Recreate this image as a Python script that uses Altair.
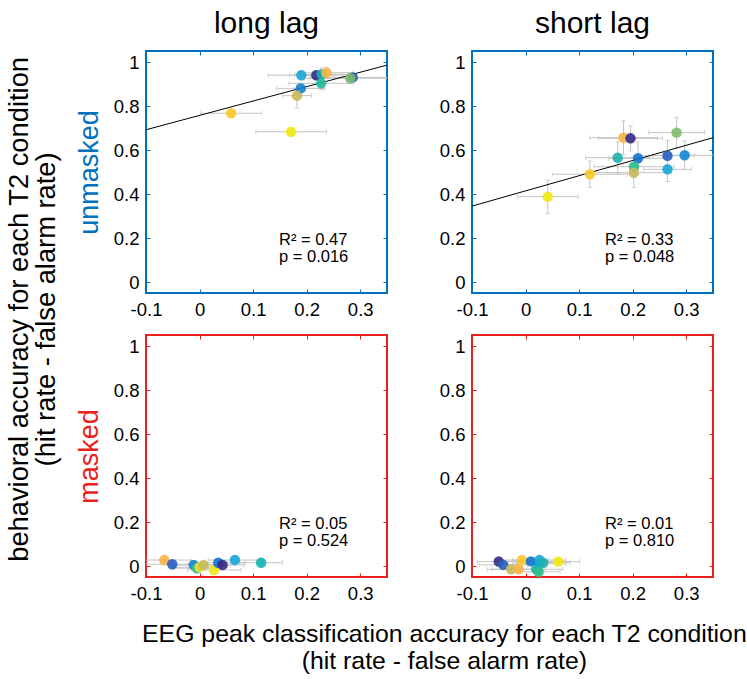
import altair as alt
import pandas as pd

FONT = "Liberation Sans"
BLUE = "#0072BD"
RED = "#E8231E"
GRAY = "#C4C4C4"

X_TICKS = [-0.1, 0, 0.1, 0.2, 0.3]
Y_TICKS = [0, 0.2, 0.4, 0.6, 0.8, 1]

# ---- long lag, unmasked ----
lu_x = [0.218, 0.286, 0.189, 0.190, 0.228, 0.227, 0.281, 0.182, 0.237, 0.059, 0.171]
lu_y = [0.940, 0.930, 0.880, 0.940, 0.944, 0.903, 0.926, 0.847, 0.951, 0.767, 0.683]
lu_xe = [0.050, 0.080, 0.045, 0.062, 0.050, 0.060, 0.085, 0.027, 0.050, 0.057, 0.066]
lu_ye = [0.020, 0.020, 0.020, 0.020, 0.030, 0.030, 0.020, 0.056, 0.025, 0.010, 0.012]
lu_c = ["#352A87", "#2A5EBF", "#1482D5", "#1BA6D9", "#14B1B4", "#25B89A",
        "#7BBE6E", "#C8B95A", "#F8B544", "#FBC92B", "#F2E813"]
lu_fit_x = [-0.1, 0.35]
lu_fit_y = [0.692, 0.986]
lu_stats = ["R² = 0.47", "p = 0.016"]

# ---- short lag, unmasked ----
su_x = [0.0415, 0.120, 0.183, 0.196, 0.172, 0.210, 0.2025, 0.202, 0.282, 0.265, 0.265, 0.297]
su_y = [0.388, 0.490, 0.656, 0.653, 0.565, 0.562, 0.524, 0.497, 0.679, 0.574, 0.512, 0.576]
su_xe = [0.057, 0.070, 0.063, 0.060, 0.060, 0.055, 0.075, 0.070, 0.052, 0.050, 0.045, 0.060]
su_ye = [0.076, 0.060, 0.077, 0.057, 0.072, 0.075, 0.050, 0.068, 0.069, 0.070, 0.055, 0.065]
su_c = ["#F2E813", "#FBCB2B", "#F8B544", "#352A87", "#1FB0B0", "#1272D3",
        "#2DBF8A", "#C8B95A", "#7DBE6C", "#2A5EBF", "#16A8D6", "#1287D5"]
su_fit_x = [-0.1, 0.35]
su_fit_y = [0.345, 0.656]
su_stats = ["R² = 0.33", "p = 0.048"]

# ---- long lag, masked ----
lm_x = [-0.066, -0.051, -0.011, -0.005, 0.000, 0.0075, 0.027, 0.035, 0.043, 0.066, 0.115]
lm_y = [0.027, 0.008, 0.005, -0.010, -0.006, 0.005, -0.018, 0.015, 0.005, 0.027, 0.015]
lm_xe = [0.050, 0.050, 0.040, 0.045, 0.050, 0.050, 0.050, 0.050, 0.040, 0.050, 0.040]
lm_ye = [0.006, 0.006, 0.006, 0.006, 0.006, 0.006, 0.006, 0.006, 0.006, 0.006, 0.006]
lm_c = ["#F8B544", "#2A5EBF", "#1482D5", "#2DBF8A", "#E8E030", "#C8B95A",
        "#F2E813", "#1474D0", "#352A87", "#1BA6D9", "#14B1B4"]
lm_stats = ["R² = 0.05", "p = 0.524"]

# ---- short lag, masked ----
sm_x = [-0.050, -0.0415, -0.027, -0.013, -0.007, 0.010, 0.026, 0.026, 0.033, 0.020, 0.0245, 0.061]
sm_y = [0.020, 0.005, -0.015, -0.015, 0.027, 0.021, 0.010, 0.027, 0.015, -0.015, -0.026, 0.020]
sm_xe = [0.040, 0.045, 0.045, 0.050, 0.050, 0.050, 0.050, 0.050, 0.050, 0.050, 0.040, 0.040]
sm_ye = [0.006, 0.006, 0.006, 0.006, 0.006, 0.006, 0.006, 0.006, 0.006, 0.006, 0.006, 0.006]
sm_c = ["#352A87", "#2A5EBF", "#C8B95A", "#F8B544", "#FBCB2B", "#1474D0",
        "#1287D5", "#16A8D6", "#1FB0B0", "#14B1B4", "#2DBF8A", "#F2E813"]
sm_stats = ["R² = 0.01", "p = 0.810"]

W, H = 241, 242
X_LAB = "datum.value == 0 ? '0' : (datum.value < 0 ? '-' : '') + format(abs(datum.value), '.1f')"
Y_LAB = "datum.value == 0 ? '0' : (datum.value == 1 ? '1' : format(datum.value, '.1f'))"
TICK_FS = 18.5


def panel(px, py, pxe, pye, pc, stats, frame, fit_x=None, fit_y=None,
          title=None, row_label=None):
    df = pd.DataFrame({
        "x": px, "y": py,
        "xlo": [a - b for a, b in zip(px, pxe)], "xhi": [a + b for a, b in zip(px, pxe)],
        "ylo": [a - b for a, b in zip(py, pye)], "yhi": [a + b for a, b in zip(py, pye)],
        "c": pc,
    })
    xs = alt.Scale(domain=[-0.1, 0.35], nice=False, zero=False)
    ys = alt.Scale(domain=[-0.05, 1.05], nice=False, zero=False)
    xaxis = alt.Axis(values=X_TICKS, labelExpr=X_LAB, title=None, domain=False, grid=False,
                     tickSize=4, offset=-4, tickColor=frame, labelPadding=7,
                     labelFontSize=TICK_FS, labelFont=FONT, labelColor="black",
                     labelFlush=False, labelOverlap=False, labelBound=False)
    yargs = dict(values=Y_TICKS, labelExpr=Y_LAB, domain=False, grid=False,
                 tickSize=4, offset=-4, tickColor=frame, labelPadding=7,
                 labelFontSize=TICK_FS, labelFont=FONT, labelColor="black",
                 labelFlush=False, labelOverlap=False, labelBound=False)
    if row_label:
        yaxis = alt.Axis(title=row_label, titleColor=frame, titleFontSize=27,
                         titleFontWeight="normal", titleFont=FONT, titlePadding=10, **yargs)
    else:
        yaxis = alt.Axis(title=None, **yargs)

    base = alt.Chart(df)
    X = lambda f, **k: alt.X(f, scale=xs, **k)
    Y = lambda f, **k: alt.Y(f, scale=ys, **k)
    layers = []
    layers.append(base.mark_rule(color=GRAY, strokeWidth=1, clip=True).encode(
        x=X("xlo:Q", axis=xaxis), x2="xhi:Q", y=Y("y:Q", axis=yaxis)))
    layers.append(base.mark_rule(color=GRAY, strokeWidth=1, clip=True).encode(
        x=X("x:Q"), y=Y("ylo:Q"), y2="yhi:Q"))
    for f in ["xlo", "xhi"]:
        layers.append(base.mark_tick(orient="vertical", size=5, thickness=1, color=GRAY,
                                     clip=True).encode(x=X(f + ":Q"), y=Y("y:Q")))
    for f in ["ylo", "yhi"]:
        layers.append(base.mark_tick(orient="horizontal", size=5, thickness=1, color=GRAY,
                                     clip=True).encode(x=X("x:Q"), y=Y(f + ":Q")))
    if fit_x is not None:
        fdf = pd.DataFrame({"fx": fit_x, "fy": fit_y})
        layers.append(alt.Chart(fdf).mark_line(color="black", strokeWidth=1, clip=True).encode(
            x=X("fx:Q"), y=Y("fy:Q")))
    layers.append(base.mark_circle(size=110, opacity=0.9, clip=True).encode(
        x=X("x:Q"), y=Y("y:Q"), color=alt.Color("c:N", scale=None)))
    sdf = pd.DataFrame({"s": ["\n".join(stats)]})
    layers.append(alt.Chart(sdf).mark_text(align="left", baseline="top", fontSize=16.5,
                                           font=FONT, lineBreak="\n", lineHeight=17,
                                           color="black").encode(
        x=alt.value(133), y=alt.value(181), text="s:N"))
    inner = alt.layer(*layers)

    # top/right inward ticks
    axdf = pd.DataFrame({"x": [0.0], "y": [0.0]})
    targs = dict(domain=False, grid=False, labels=False, tickSize=4, offset=-4,
                 tickColor=frame, title=None)
    box = alt.Chart(axdf).mark_point(opacity=0).encode(
        x=alt.X("x:Q", scale=xs, axis=alt.Axis(orient="top", values=X_TICKS, **targs)),
        y=alt.Y("y:Q", scale=ys, axis=alt.Axis(orient="right", values=Y_TICKS, **targs)))
    props = dict(width=W, height=H, view=alt.ViewBackground(stroke=frame, strokeWidth=2))
    if title:
        props["title"] = alt.TitleParams(title, fontSize=30, fontWeight="normal", font=FONT,
                                         color="black", offset=12)
    return alt.layer(inner, box).resolve_scale(x="independent", y="independent").properties(**props)


tl = panel(lu_x, lu_y, lu_xe, lu_ye, lu_c, lu_stats, BLUE, lu_fit_x, lu_fit_y,
           title="long lag", row_label="unmasked")
tr = panel(su_x, su_y, su_xe, su_ye, su_c, su_stats, BLUE, su_fit_x, su_fit_y,
           title="short lag")
bl = panel(lm_x, lm_y, lm_xe, lm_ye, lm_c, lm_stats, RED, row_label="masked")
br = panel(sm_x, sm_y, sm_xe, sm_ye, sm_c, sm_stats, RED)

row1 = alt.hconcat(tl, tr, spacing=49)
row2 = alt.hconcat(bl, br, spacing=49)
grid = alt.vconcat(row1, row2, spacing=13,
                   title=alt.TitleParams(["EEG peak classification accuracy for each T2 condition",
                                          "(hit rate - false alarm rate)"],
                                         orient="bottom", fontSize=24.8, fontWeight="normal",
                                         font=FONT, color="black", lineHeight=27, offset=18,
                                         anchor="middle", dx=50))
chart = alt.hconcat(grid, title=alt.TitleParams(
    ["behavioral accuracy for each T2 condition", "(hit rate - false alarm rate)"],
    orient="left", fontSize=27.3, fontWeight="normal", font=FONT, color="black",
    lineHeight=27, offset=14, anchor="middle", dx=31)).properties(
    padding={"left": 5, "top": 7, "right": 0, "bottom": 0}).configure(font=FONT)

chart.save("out.html", embed_options={"renderer": "svg", "actions": False})
